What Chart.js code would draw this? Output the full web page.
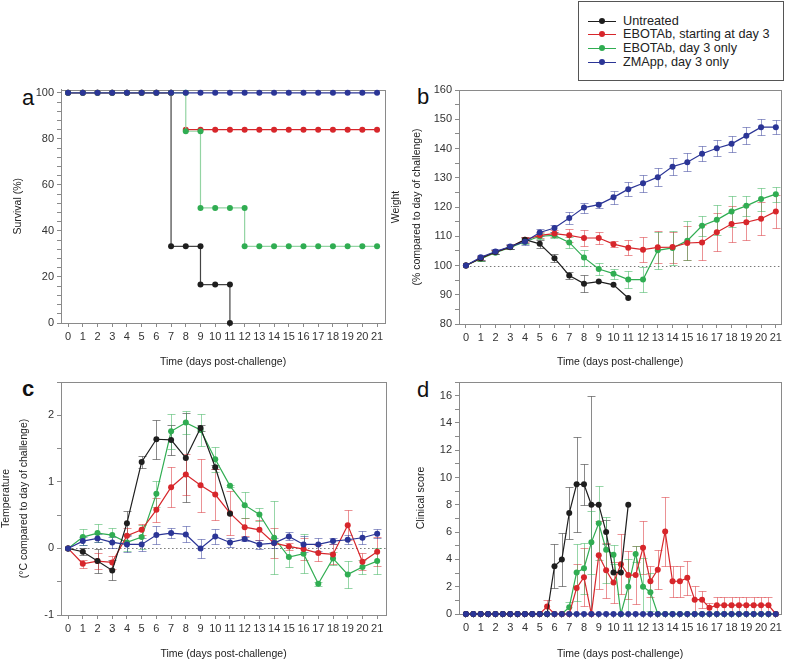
<!DOCTYPE html>
<html>
<head>
<meta charset="utf-8">
<script src="https://cdn.jsdelivr.net/npm/chart.js@4.4.0/dist/chart.umd.min.js"></script>
<style>
    body { margin: 0; width: 787px; height: 661px; position: relative; background: #fff; overflow: hidden;
           font-family: "Liberation Sans", Arial, sans-serif; }
    canvas { position: absolute; }
    .letter { position: absolute; font-size: 22px; line-height: 22px; color: #111; }
    #legend { position: absolute; left: 578px; top: 1px; width: 206px; height: 80px; border: 1px solid #555; box-sizing: border-box; }
    .row { position: absolute; left: 0; height: 14px; font-size: 12.7px; line-height: 14px; color: #222; }
    .row .ln { position: absolute; left: 9px; top: 7px; width: 28px; height: 1px; }
    .row .dot { position: absolute; left: 20px; top: 4px; width: 6px; height: 6px; border-radius: 50%; }
    .row .tx { position: absolute; left: 44px; top: 0; white-space: nowrap; }
</style>
</head>
<body>
<div id="legend"></div>
<div class="letter" style="left:22px;top:87px">a</div>
<div class="letter" style="left:417px;top:86px">b</div>
<div class="letter" style="left:22px;top:378px;font-weight:bold">c</div>
<div class="letter" style="left:417px;top:379px">d</div>
<canvas id="chartA" width="395" height="290" style="left:0;top:80px"></canvas>
<canvas id="chartB" width="407" height="290" style="left:380px;top:80px"></canvas>
<canvas id="chartC" width="395" height="289" style="left:0;top:372px"></canvas>
<canvas id="chartD" width="387" height="289" style="left:400px;top:372px"></canvas>
<script>
// groups
const groupNames = ['Untreated', 'EBOTAb, starting at day 3', 'EBOTAb, day 3 only', 'ZMApp, day 3 only']
const groupColors = ['#1e1e1e', '#d7262b', '#30ad52', '#2b3596']
const errorColors = ['rgba(60,60,60,0.6)', 'rgba(215,38,43,0.5)', 'rgba(48,173,82,0.5)', 'rgba(43,53,150,0.5)']

// a - survival (%)
const survDaysUntreated = [0, 1, 2, 3, 4, 5, 6, 7, 7, 8, 9, 9, 10, 11, 11]
const survUntreated = [100, 100, 100, 100, 100, 100, 100, 100, 33.3, 33.3, 33.3, 16.7, 16.7, 16.7, 0]
const survDaysEbotab = [0, 1, 2, 3, 4, 5, 6, 7, 8, 8, 9, 10, 11, 12, 13, 14, 15, 16, 17, 18, 19, 20, 21]
const survEbotab = [100, 100, 100, 100, 100, 100, 100, 100, null, 84, 84, 84, 84, 84, 84, 84, 84, 84, 84, 84, 84, 84, 84]
const survDaysEbotab3 = [0, 1, 2, 3, 4, 5, 6, 7, 8, 8, 9, 9, 10, 11, 12, 12, 13, 14, 15, 16, 17, 18, 19, 20, 21]
const survEbotab3 = [100, 100, 100, 100, 100, 100, 100, 100, 100, 83.3, 83.3, 50, 50, 50, 50, 33.3, 33.3, 33.3, 33.3, 33.3, 33.3, 33.3, 33.3, 33.3, 33.3]
const survDaysZmapp = [0, 1, 2, 3, 4, 5, 6, 7, 8, 9, 10, 11, 12, 13, 14, 15, 16, 17, 18, 19, 20, 21]
const survZmapp = [100, 100, 100, 100, 100, 100, 100, 100, 100, 100, 100, 100, 100, 100, 100, 100, 100, 100, 100, 100, 100, 100]

// b - weight (% of day 0), mean and error
const days = [0, 1, 2, 3, 4, 5, 6, 7, 8, 9, 10, 11, 12, 13, 14, 15, 16, 17, 18, 19, 20, 21]
const weightUntreated = [100, 102.5, 104.6, 106.3, 108.8, 107.4, 102.5, 96.6, 93.8, 94.5, 93.4, 88.9]
const weightUntreatedErr = [0, 0.8, 0.8, 0.8, 1.0, 1.3, 1.3, 1.2, 2.8, 0, 0, 0]
const weightEbotab = [100, 102.5, 104.6, 106.3, 108.8, 110.3, 110.9, 110.3, 109.4, 109.4, 107.3, 106.1, 105.4, 106.2, 106.3, 107.7, 107.9, 111.4, 114.2, 114.8, 116.0, 118.5]
const weightEbotabErr = [0, 0.6, 0.6, 0.6, 0.8, 1.0, 1.2, 2.2, 2.8, 2.0, 1.0, 2.5, 4.3, 5.5, 5.3, 5.9, 5.9, 6.6, 6.3, 6.0, 5.6, 5.6]
const weightEbotab3 = [100, 102.3, 104.4, 106.2, 108.1, 110.0, 110.3, 107.9, 102.7, 98.8, 97.2, 95.2, 95.2, 105.2, 106.0, 108.5, 113.6, 115.6, 118.5, 120.4, 122.7, 124.4]
const weightEbotab3Err = [0, 0.6, 0.6, 0.6, 0.8, 1.0, 1.0, 1.8, 2.7, 2.2, 1.7, 2.8, 4.3, 6.4, 5.7, 6.7, 3.4, 5.1, 5.4, 3.5, 3.9, 2.6]
const weightZmapp = [100, 102.8, 104.8, 106.5, 108.1, 111.3, 112.8, 116.2, 119.8, 120.8, 123.3, 126.1, 128.1, 130.2, 133.8, 135.3, 138.2, 140.1, 141.6, 144.4, 147.3, 147.3]
const weightZmappErr = [0, 0.9, 0.8, 1.0, 1.2, 1.2, 1.2, 2.0, 1.7, 1.0, 2.3, 2.3, 3.0, 3.0, 2.8, 3.1, 2.6, 2.7, 2.7, 2.8, 2.8, 2.5]

// c - temperature change (degC)
const tempUntreated = [0, -0.05, -0.19, -0.33, 0.38, 1.30, 1.64, 1.63, 1.36, 1.81, 1.22, 0.52]
const tempUntreatedErr = [0, 0.05, 0.18, 0.15, 0.18, 0.09, 0.29, 0.23, 0.67, 0.05, 0.03, 0]
const tempEbotab = [0, -0.23, -0.19, -0.21, 0.19, 0.28, 0.58, 0.92, 1.11, 0.95, 0.81, 0.53, 0.32, 0.28, 0.08, 0.03, -0.01, -0.07, -0.09, 0.35, -0.20, -0.05]
const tempEbotabErr = [0, 0.06, 0.12, 0.10, 0.12, 0.08, 0.18, 0.30, 0.31, 0.40, 0.38, 0.33, 0.13, 0.15, 0.23, 0.05, 0.17, 0.12, 0.15, 0.22, 0.13, 0.22]
const tempEbotab3 = [0, 0.17, 0.23, 0.20, 0.09, 0.17, 0.82, 1.76, 1.89, 1.78, 1.34, 0.94, 0.65, 0.51, 0.16, -0.13, -0.08, -0.53, -0.15, -0.39, -0.28, -0.19]
const tempEbotab3Err = [0, 0.12, 0.14, 0.10, 0.13, 0.18, 0.20, 0.26, 0.17, 0.24, 0.19, 0.02, 0.20, 0.10, 0.55, 0.15, 0.29, 0.03, 0.10, 0.20, 0.10, 0.20]
const tempZmapp = [0, 0.11, 0.15, 0.09, 0.06, 0.06, 0.20, 0.23, 0.21, 0.00, 0.18, 0.09, 0.14, 0.06, 0.08, 0.18, 0.06, 0.06, 0.11, 0.13, 0.16, 0.22]
const tempZmappErr = [0, 0.06, 0.06, 0.08, 0.12, 0.10, 0.13, 0.08, 0.12, 0.14, 0.11, 0.07, 0.03, 0.07, 0.07, 0.06, 0.12, 0.10, 0.05, 0.07, 0.10, 0.07]

// d - clinical score, twice a day
const halfDays = [0, 0.5, 1, 1.5, 2, 2.5, 3, 3.5, 4, 4.5, 5, 5.5, 6, 6.5, 7, 7.5, 8, 8.5, 9, 9.5, 10, 10.5,
    11, 11.5, 12, 12.5, 13, 13.5, 14, 14.5, 15, 15.5, 16, 16.5, 17, 17.5, 18, 18.5, 19, 19.5, 20, 20.5, 21]
const scoreUntreated = [0, 0, 0, 0, 0, 0, 0, 0, 0, 0, 0, 0, 3.5, 4.0, 7.4, 9.5, 9.5, 8.0, 8.0, 6.0, 3.05, 3.05, 8.0]
const scoreUntreatedErr = [0, 0, 0, 0, 0, 0, 0, 0, 0, 0, 0, 0, 1.6, 1.95, 1.9, 3.5, 1.5, 8.0, 0, 0.9, 0, 0, 0]
const scoreEbotab = [0, 0, 0, 0, 0, 0, 0, 0, 0, 0, 0, 0.55, 0, 0, 0, 1.9, 2.7, 0, 4.3, 3.2, 2.3, 3.65,
    2.85, 2.85, 4.85, 2.4, 3.25, 6.05, 2.4, 2.4, 2.65, 1.05, 1.05, 0.45, 0.65, 0.65, 0.65, 0.65, 0.65, 0.65, 0.65, 0.65, 0]
const scoreEbotabErr = [0, 0, 0, 0, 0, 0, 0, 0, 0, 0, 0, 0.5, 0, 0, 0, 1.8, 2.1, 0, 2.5, 2.0, 1.5, 2.2,
    1.75, 2.15, 1.95, 1.15, 1.45, 2.5, 1.15, 1.15, 1.25, 1.0, 0.6, 0.35, 0.6, 0.6, 0.6, 0.6, 0.6, 0.6, 0.6, 0.6, 0]
const scoreEbotab3 = [0, 0, 0, 0, 0, 0, 0, 0, 0, 0, 0, 0, 0, 0, 0.5, 3.05, 3.35, 5.25, 6.65, 4.7, 4.35, 0,
    2.0, 4.4, 2.0, 1.6, 0, 0, 0, 0, 0, 0, 0, 0, 0, 0, 0, 0, 0, 0, 0, 0, 0]
const scoreEbotab3Err = [0, 0, 0, 0, 0, 0, 0, 0, 0, 0, 0, 0, 0, 0, 0.4, 2.1, 1.85, 2.3, 2.7, 2.4, 0.7, 0,
    2.0, 0.6, 2.1, 1.4, 0, 0, 0, 0, 0, 0, 0, 0, 0, 0, 0, 0, 0, 0, 0, 0, 0]
const scoreZmapp = [0, 0, 0, 0, 0, 0, 0, 0, 0, 0, 0, 0, 0, 0, 0, 0, 0, 0, 0, 0, 0, 0,
    0, 0, 0, 0, 0, 0, 0, 0, 0, 0, 0, 0, 0, 0, 0, 0, 0, 0, 0, 0, 0]

// tick values
const dayTicks = [0, 1, 2, 3, 4, 5, 6, 7, 8, 9, 10, 11, 12, 13, 14, 15, 16, 17, 18, 19, 20, 21]
const survTicks = [0, 4, 8, 12, 16, 20, 24, 28, 32, 36, 40, 44, 48, 52, 56, 60, 64, 68, 72, 76, 80, 84, 88, 92, 96, 100]
const survLabels = [0, 20, 40, 60, 80, 100]
const weightTicks = [80, 85, 90, 95, 100, 105, 110, 115, 120, 125, 130, 135, 140, 145, 150, 155, 160]
const weightLabels = [80, 90, 100, 110, 120, 130, 140, 150, 160]
const tempTicks = [-1, -0.5, 0, 0.5, 1, 1.5, 2, 2.5]
const tempLabels = [-1, 0, 1, 2]
const scoreTicks = [0, 1, 2, 3, 4, 5, 6, 7, 8, 9, 10, 11, 12, 13, 14, 15, 16, 17]
const scoreLabels = [0, 2, 4, 6, 8, 10, 12, 14, 16]

const axisColor = '#8a8a8a'
const timeTitle = 'Time (days post-challenge)'

// legend
const legendEl = document.getElementById('legend')
const rowTops = [11.5, 25, 38.7, 52.5]
groupNames.forEach((name, i) => {
    const row = document.createElement('div')
    row.className = 'row'
    row.style.top = rowTops[i] + 'px'
    row.innerHTML = '<span class="ln" style="background:' + groupColors[i] + '"></span>' +
        '<span class="dot" style="background:' + groupColors[i] + '"></span>' +
        '<span class="tx">' + name + '</span>'
    legendEl.appendChild(row)
})

// plugins
const errorBars = {
    id: 'errorBars',
    beforeDatasetsDraw(chart) {
        const {ctx, chartArea, scales} = chart
        ctx.save()
        ctx.beginPath()
        ctx.rect(chartArea.left, chartArea.top, chartArea.width, chartArea.height + 1)
        ctx.clip()
        ctx.lineWidth = 1
        chart.data.datasets.forEach(ds => {
            if (!ds.errors) return
            ctx.strokeStyle = ds.errorColor
            ds.data.forEach((p, j) => {
                const e = ds.errors[j]
                if (!e) return
                const x = Math.round(scales.x.getPixelForValue(p.x)) + 0.5
                const top = Math.round(scales.y.getPixelForValue(p.y + e)) + 0.5
                const bot = Math.round(scales.y.getPixelForValue(p.y - e)) + 0.5
                ctx.beginPath()
                ctx.moveTo(x, top)
                ctx.lineTo(x, bot)
                ctx.moveTo(x - 4, top)
                ctx.lineTo(x + 4, top)
                ctx.moveTo(x - 4, bot)
                ctx.lineTo(x + 4, bot)
                ctx.stroke()
            })
        })
        ctx.restore()
    }
}

const frame = {
    id: 'frame',
    beforeDatasetsDraw(chart, args, opts) {
        const {ctx, chartArea, scales} = chart
        ctx.save()
        ctx.strokeStyle = axisColor
        ctx.lineWidth = 1
        ctx.strokeRect(Math.round(chartArea.left) + 0.5, Math.round(chartArea.top) + 0.5,
            Math.round(chartArea.width), Math.round(chartArea.height))
        if (opts.refValue !== undefined) {
            const y = Math.round(scales.y.getPixelForValue(opts.refValue)) + 0.5
            ctx.strokeStyle = '#777'
            ctx.setLineDash([1.5, 2.5])
            ctx.beginPath()
            ctx.moveTo(scales.x.getPixelForValue(0), y)
            ctx.lineTo(chartArea.right, y)
            ctx.stroke()
        }
        ctx.restore()
    }
}

const series = (i, xs, ys, errs, order, lineColor) => ({
    label: groupNames[i],
    data: ys.map((y, k) => ({x: xs[k], y})),
    borderColor: lineColor || groupColors[i],
    backgroundColor: groupColors[i],
    pointBackgroundColor: groupColors[i],
    pointBorderWidth: 0,
    pointRadius: 3,
    borderWidth: 1.2,
    clip: false,
    order,
    errors: errs,
    errorColor: errorColors[i]
})

const xAxis = (min, max, ticks, height, titlePad) => ({
    type: 'linear', min, max,
    afterBuildTicks: s => { s.ticks = ticks.map(v => ({value: v})) },
    afterFit: s => { s.height = height },
    grid: {drawOnChartArea: false, tickLength: 4, color: axisColor},
    border: {color: axisColor},
    ticks: {color: '#333', font: {size: 11}, padding: 3, autoSkip: false, maxRotation: 0,
        callback: v => dayTicks.includes(v) ? v : ''},
    title: {display: true, text: timeTitle, color: '#222', font: {size: 10.5}, padding: {top: 0, bottom: titlePad}}
})

const yAxis = (min, max, ticks, labels, width, title, titlePad, lineHeight) => ({
    type: 'linear', min, max,
    afterBuildTicks: s => { s.ticks = ticks.map(v => ({value: v})) },
    afterFit: s => { s.width = width },
    grid: {drawOnChartArea: false, tickLength: 4, color: axisColor},
    border: {color: axisColor},
    ticks: {color: '#333', font: {size: 11}, padding: 3, autoSkip: false,
        callback: v => labels.includes(v) ? v : ''},
    title: {display: true, text: title, color: '#222', font: {size: 10.5, lineHeight: lineHeight || 1.2},
        padding: {top: titlePad, bottom: 0}}
})

const baseOptions = (padding, scales, frameOpts) => ({
    responsive: false,
    animation: false,
    devicePixelRatio: 1,
    events: [],
    layout: {padding},
    scales,
    plugins: {legend: {display: false}, tooltip: {enabled: false}, frame: frameOpts || {}}
})

// a
new Chart(document.getElementById('chartA'), {
    type: 'line',
    data: {
        datasets: [
            series(0, survDaysUntreated, survUntreated, null, 3, '#444'),
            series(1, survDaysEbotab, survEbotab, null, 2),
            series(2, survDaysEbotab3, survEbotab3, null, 1, '#93d4a3'),
            series(3, survDaysZmapp, survZmapp, null, 0)
        ]
    },
    options: baseOptions({top: 9, right: 10, left: 0, bottom: 0}, {
        x: xAxis(-0.48, 21.54, dayTicks, 47, 1.7),
        y: yAxis(0, 101.4, survTicks, survLabels, 61, 'Survival (%)', 11.7)
    }),
    plugins: [frame, errorBars]
})

// b
new Chart(document.getElementById('chartB'), {
    type: 'line',
    data: {
        datasets: [
            series(0, days, weightUntreated, weightUntreatedErr, 1),
            series(1, days, weightEbotab, weightEbotabErr, 2),
            series(2, days, weightEbotab3, weightEbotab3Err, 3),
            series(3, days, weightZmapp, weightZmappErr, 0)
        ]
    },
    options: baseOptions({top: 10, right: 6, left: 0, bottom: 0}, {
        x: xAxis(-0.47, 21.35, dayTicks, 46, 1.7),
        y: yAxis(80, 160, weightTicks, weightLabels, 79, ['Weight', '(% compared to day of challenge)'], 5.5, '21px')
    }, {refValue: 100}),
    plugins: [frame, errorBars]
})

// c
new Chart(document.getElementById('chartC'), {
    type: 'line',
    data: {
        datasets: [
            series(0, days, tempUntreated, tempUntreatedErr, 1),
            series(1, days, tempEbotab, tempEbotabErr, 2),
            series(2, days, tempEbotab3, tempEbotab3Err, 3),
            series(3, days, tempZmapp, tempZmappErr, 0)
        ]
    },
    options: baseOptions({top: 10, right: 9, left: 0, bottom: 0}, {
        x: xAxis(-0.48, 21.6, dayTicks, 46, 0.7),
        y: yAxis(-1, 2.5, tempTicks, tempLabels, 61, ['Temperature', '(°C compared to day of challenge)'], -2.3, '17.5px')
    }, {refValue: 0}),
    plugins: [frame, errorBars]
})

// d
new Chart(document.getElementById('chartD'), {
    type: 'line',
    data: {
        datasets: [
            series(0, halfDays, scoreUntreated, scoreUntreatedErr, 1),
            series(1, halfDays, scoreEbotab, scoreEbotabErr, 2),
            series(2, halfDays, scoreEbotab3, scoreEbotab3Err, 3),
            series(3, halfDays, scoreZmapp, null, 0)
        ]
    },
    options: baseOptions({top: 10, right: 6, left: 0, bottom: 0}, {
        x: xAxis(-0.47, 21.35, halfDays, 47, 0.7),
        y: yAxis(0, 17, scoreTicks, scoreLabels, 59, 'Clinical score', 15.2)
    }),
    plugins: [frame, errorBars]
})
</script>
</body>
</html>
